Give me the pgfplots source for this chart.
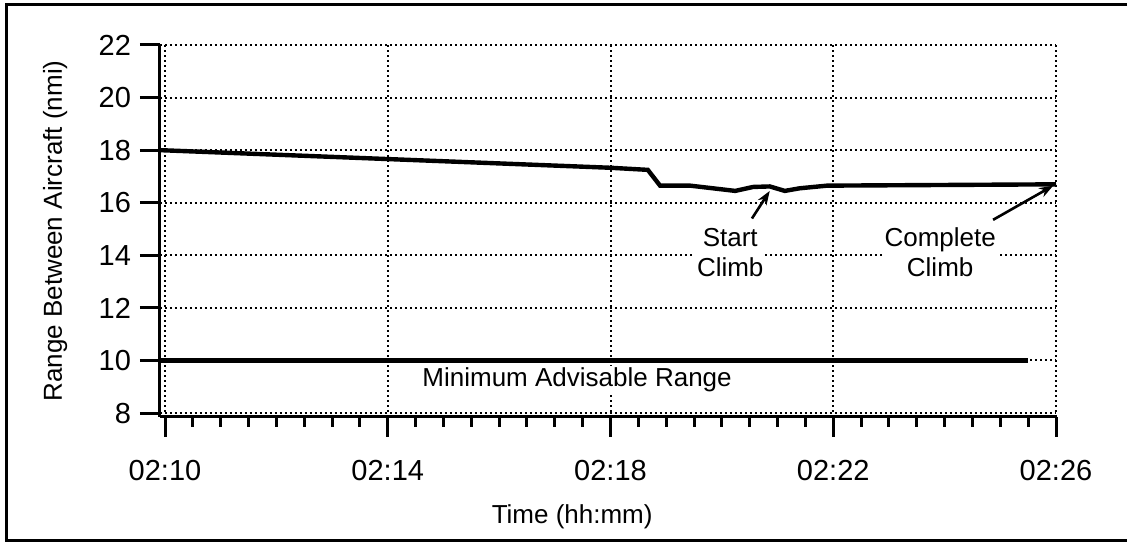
\documentclass[border=0pt]{standalone}
\usepackage{fontspec}
\setmainfont{Liberation Sans}
\usepackage{pgfplots}
\pgfplotsset{compat=1.18}
\usetikzlibrary{arrows.meta}

\begin{document}
\begin{tikzpicture}
\useasboundingbox (0,0) rectangle (566pt,273pt);
\draw[line width=1.5pt] (563.5pt,270.5pt) -- (3pt,270.5pt) -- (3pt,2.5pt) -- (563.5pt,2.5pt);
\begin{axis}[
  at={(80pt,64.5pt)}, anchor=south west,
  scale only axis, width=448pt, height=186pt,
  xmin=-0.09, xmax=16, ymin=7.85, ymax=22,
  axis x line*=bottom, axis y line*=left,
  axis line style={line width=1.5pt},
  xtick={0,4,8,12,16}, xticklabels={02:10,02:14,02:18,02:22,02:26},
  minor xtick={0.5,1,...,15.5},
  ytick={8,10,...,22},
  tick align=outside,
  major tick length=10pt, minor tick length=5pt,
  every tick/.style={black, line width=1.5pt},
  grid=major,
  major grid style={black, line width=1pt, dash pattern=on 1pt off 1.5pt},
  tick label style={font=\fontsize{14.5}{16}\selectfont},
  xticklabel style={yshift=-8pt},
  yticklabel style={xshift=-1pt},
  label style={font=\fontsize{13}{15}\selectfont},
  /pgf/number format/assume math mode=true,
  xlabel={Time (hh:mm)},
  ylabel={Range Between Aircraft (nmi)},
  xlabel style={at={(axis description cs:0.46,-0.269)}, anchor=center},
  ylabel style={at={(axis description cs:-0.117,0.5)}, anchor=center},
  clip=false,
]
\addplot[black, line width=2.2pt] coordinates {
  (-0.09,18) (8,17.33) (8.67,17.25) (8.89,16.65) (9.43,16.65) (10.24,16.45)
  (10.56,16.6) (10.86,16.62) (11.13,16.45) (11.40,16.55) (11.89,16.65) (16,16.7)
};
\addplot[black, line width=2.4pt] coordinates {(-0.09,10) (15.5,10)};

\node[fill=white, inner sep=1pt, align=center, font=\fontsize{13}{15}\selectfont] at (axis cs:10.15,14.1) {Start\\Climb};
\node[fill=white, inner sep=1pt, align=center, font=\fontsize{13}{15}\selectfont] at (axis cs:13.92,14.1) {Complete\\Climb};
\node[fill=white, inner sep=1pt, font=\fontsize{13}{15}\selectfont] at (axis cs:7.4,9.25) {Minimum Advisable Range};
\draw[line width=1.3pt, -{Stealth[length=7pt,width=5pt]}] (axis cs:10.54,15.4) -- (axis cs:10.86,16.45);
\draw[line width=1.3pt, -{Stealth[length=7pt,width=5pt]}] (axis cs:14.87,15.35) -- (axis cs:15.95,16.65);
\end{axis}
\end{tikzpicture}
\end{document}
